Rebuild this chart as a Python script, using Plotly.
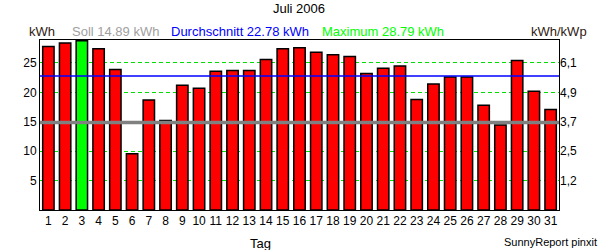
import plotly.graph_objects as go

days = list(range(1, 32))
energy_kwh = [27.8, 28.4, 28.79, 27.4, 23.9, 9.56, 18.7, 15.2, 21.2, 20.7,
              23.6, 23.7, 23.7, 25.6, 27.4, 27.6, 26.8, 26.4, 26.1, 23.2,
              24.1, 24.5, 18.8, 21.4, 22.6, 22.6, 17.8, 14.45, 25.4, 20.2, 17.1]
soll = 14.89
avg = 22.78
maximum = 28.79
y_ticks = [5, 10, 15, 20, 25]
y2_ticktext = ["1,2", "2,5", "3,7", "4,9", "6,1"]

colors = ["#00ff00" if v == maximum else "#ff0000" for v in energy_kwh]
FONT = "Liberation Sans, Arial, sans-serif"

fig = go.Figure()
fig.add_trace(go.Bar(x=days, y=energy_kwh, marker=dict(color=colors, line=dict(color="black", width=1.5)),
                     hoverinfo="skip"))
fig.add_trace(go.Scatter(x=[days[0]], y=[0], yaxis="y2", mode="markers", marker=dict(opacity=0),
                         showlegend=False, hoverinfo="skip"))

fig.add_shape(type="line", xref="paper", x0=0, x1=1, yref="y", y0=soll, y1=soll,
              line=dict(color="#808080", width=3.5), layer="above")
fig.add_shape(type="line", xref="paper", x0=0, x1=1, yref="y", y0=avg, y1=avg,
              line=dict(color="#0000ff", width=1.5), layer="above")

yr = [0, 28.9]
fig.update_layout(
    width=600, height=250, margin=dict(l=40, r=41, t=40, b=40),
    paper_bgcolor="white", plot_bgcolor="white", showlegend=False, bargap=0.32,
    font=dict(family=FONT, size=12, color="black"),
    xaxis=dict(range=[0.5, 31.5], tickmode="array", tickvals=days, ticktext=[str(d) for d in days],
               showgrid=False, showline=True, mirror=True, linecolor="black", linewidth=1,
               ticks="", tickfont=dict(size=12, color="black"), zeroline=False),
    yaxis=dict(range=yr, tickmode="array", tickvals=y_ticks, showgrid=True, gridcolor="#00e000",
               griddash="4px,3px", gridwidth=1, showline=True, mirror=True, linecolor="black",
               linewidth=1, ticks="", zeroline=False, tickfont=dict(size=12, color="black")),
    yaxis2=dict(range=yr, overlaying="y", side="right", tickmode="array", tickvals=y_ticks,
                ticktext=y2_ticktext, showgrid=False, zeroline=False, ticks="", showline=False,
                tickfont=dict(size=12, color="black")),
)

def ann(text, x, y, color="black", xanchor="left", size=13):
    fig.add_annotation(text=text, xref="paper", yref="paper", x=x, y=y, xanchor=xanchor,
                       yanchor="middle", showarrow=False, font=dict(family=FONT, size=size, color=color))

hy = (210 - 32) / 170
ann("Juli 2006", (299 - 40) / 519, (210 - 8) / 170, xanchor="center")
ann("kWh", (27 - 40) / 519, hy, color="#302010")
ann(f"Soll {soll:.2f} kWh", (70 - 40) / 519, hy, color="#a0a0a0")
ann(f"Durchschnitt {avg:.2f} kWh", (169 - 40) / 519, hy, color="#0000ff")
ann(f"Maximum {maximum:.2f} kWh", (320 - 40) / 519, hy, color="#00ff00")
ann("kWh/kWp", (589 - 40) / 519, hy, color="#302010", xanchor="right")
ann("Tag", (260 - 40) / 519, (210 - 243) / 170, xanchor="center")
ann("SunnyReport pinxit", (599 - 40) / 519, (210 - 242) / 170, xanchor="right", size=11)

fig.write_html("out.html")
